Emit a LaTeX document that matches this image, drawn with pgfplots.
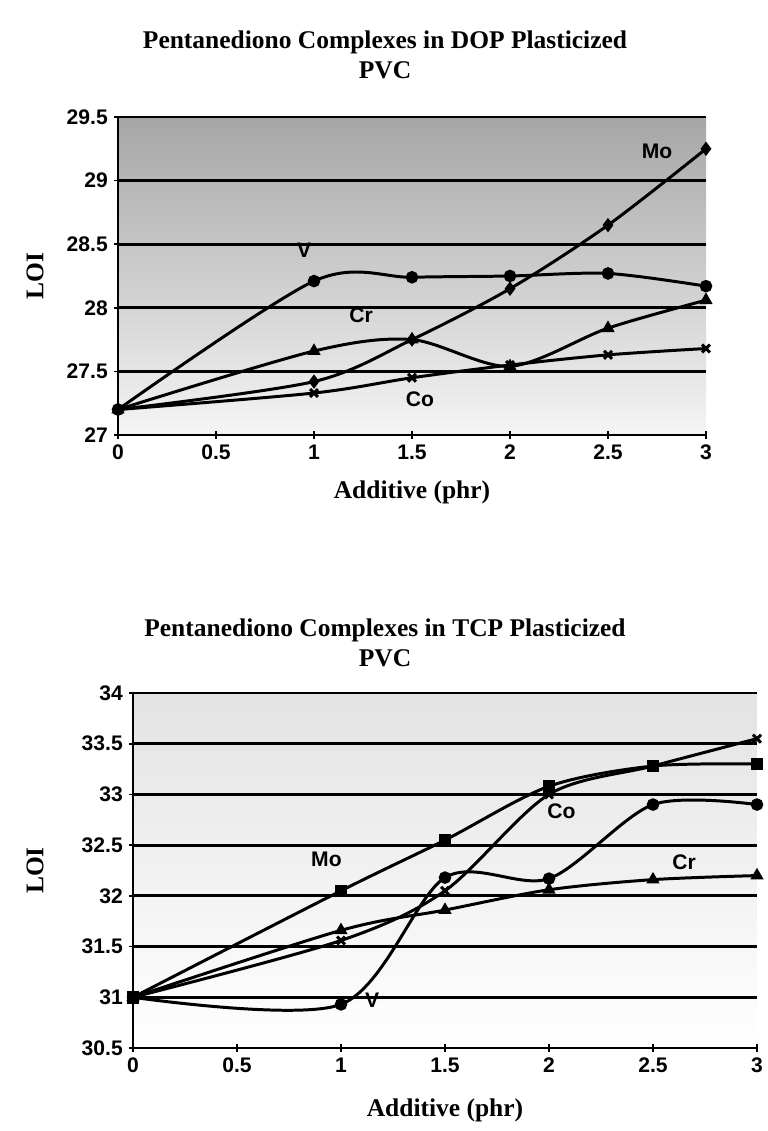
\documentclass[border=0pt]{standalone}
\usepackage{pgfplots}
\pgfplotsset{compat=1.18}
\usepackage{fontspec}
\setmainfont{Liberation Serif}
\newfontfamily\arialf{Liberation Sans}

\tikzset{lbl/.style={font=\arialf\bfseries\fontsize{12}{14}\selectfont, inner sep=1pt}}
\pgfplotsset{
  loi/.style={
    scale only axis,
    xmin=0, xmax=3,
    xtick={0,0.5,...,3},
    axis x line*=bottom,
    axis y line*=left,
    axis line style={black, line width=1.2pt},
    tick style={black, line width=1pt},
    major tick length=0.16cm,
    tick align=center,
    ymajorgrids=true,
    grid style={black, line width=1.6pt},
    /pgf/number format/assume math mode=true,
    ticklabel style={font=\arialf\bfseries\fontsize{12}{14}\selectfont},
    label style={font=\bfseries\fontsize{14.5}{17}\selectfont},
    xlabel={Additive (phr)},
    ylabel={LOI},
    cycle list={{black}},
    clip=false,
  },
  ser/.style={black, line width=1.7pt, smooth, tension=0.5, mark size=2.7pt, mark options={solid, fill=black}},
}

\begin{document}
\begin{tikzpicture}
\useasboundingbox (0,0) rectangle (15.36,22.62);

% --- DOP plasticized PVC ---
\node[align=center, font=\bfseries\fontsize{14.5}{17}\selectfont] at (7.7,21.52)
  {Pentanediono Complexes in DOP Plasticized\\PVC};
\begin{axis}[loi,
  at={(2.36cm,13.92cm)}, anchor=south west,
  width=11.76cm, height=6.36cm,
  ymin=27, ymax=29.5,
  ytick={27,27.5,...,29.5},
  yticklabels={27,27.5,28,28.5,29,29.5},
  axis background/.style={shade, top color=gray!70, bottom color=gray!8},
  xlabel style={at={(axis description cs:0.5,0)}, anchor=center, yshift=-1.14cm},
  ylabel style={at={(axis description cs:-0.141,0.5)}, anchor=center},
]
\addplot[ser, mark=diamond*] coordinates {(0,27.2) (1,27.42) (1.5,27.75) (2,28.15) (2.5,28.65) (3,29.25)};
\addplot[ser, mark=*] coordinates {(0,27.2) (1,28.21) (1.5,28.24) (2,28.25) (2.5,28.27) (3,28.17)};
\addplot[ser, mark=triangle*] coordinates {(0,27.2) (1,27.66) (1.5,27.75) (2,27.54) (2.5,27.84) (3,28.06)};
\addplot[ser, mark=x, mark size=3.2pt] coordinates {(0,27.2) (1,27.33) (1.5,27.45) (2,27.55) (2.5,27.63) (3,27.68)};
\node[lbl] at (axis cs:2.75,29.23) {Mo};
\node[lbl] at (axis cs:0.95,28.45) {V};
\node[lbl] at (axis cs:1.24,27.94) {Cr};
\node[lbl] at (axis cs:1.54,27.28) {Co};
\end{axis}

% --- TCP plasticized PVC ---
\node[align=center, font=\bfseries\fontsize{14.5}{17}\selectfont] at (7.7,9.76)
  {Pentanediono Complexes in TCP Plasticized\\PVC};
\begin{axis}[loi,
  at={(2.66cm,1.66cm)}, anchor=south west,
  width=12.48cm, height=7.1cm,
  ymin=30.5, ymax=34,
  ytick={30.5,31,...,34},
  yticklabels={30.5,31,31.5,32,32.5,33,33.5,34},
  axis background/.style={shade, top color=gray!22, bottom color=white},
  xlabel style={at={(axis description cs:0.5,0)}, anchor=center, yshift=-1.24cm},
  ylabel style={at={(axis description cs:-0.157,0.5)}, anchor=center},
]
\addplot[ser, mark=square*] coordinates {(0,31) (1,32.05) (1.5,32.55) (2,33.08) (2.5,33.28) (3,33.3)};
\addplot[ser, mark=x, mark size=3.2pt] coordinates {(0,31) (1,31.56) (1.5,32.05) (2,33.0) (2.5,33.28) (3,33.55)};
\addplot[ser, mark=*] coordinates {(0,31) (1,30.93) (1.5,32.18) (2,32.17) (2.5,32.9) (3,32.9)};
\addplot[ser, mark=triangle*] coordinates {(0,31) (1,31.66) (1.5,31.86) (2,32.06) (2.5,32.16) (3,32.2)};
\node[lbl] at (axis cs:0.93,32.36) {Mo};
\node[lbl] at (axis cs:2.06,32.83) {Co};
\node[lbl] at (axis cs:2.65,32.33) {Cr};
\node[lbl] at (axis cs:1.15,30.97) {V};
\end{axis}
\end{tikzpicture}
\end{document}
